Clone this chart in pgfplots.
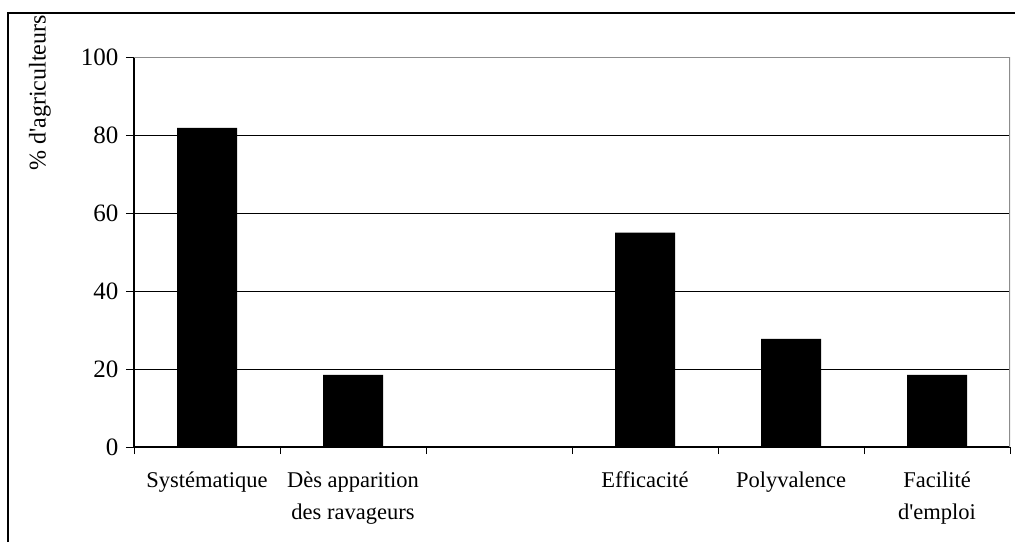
\documentclass[border=0pt]{standalone}
\usepackage{fontspec}
\setmainfont{Liberation Serif}
\usepackage{pgfplots}
\pgfplotsset{compat=1.18}
\begin{document}
\begin{tikzpicture}[x=1pt,y=1pt]
\useasboundingbox (0,0) rectangle (1015,542);
% outer chart frame (cut by the picture edge)
\draw[line width=1.2pt] (8,0) -- (8,529) -- (1016,529);
\node[rotate=90, anchor=east, inner sep=0pt, font=\fontsize{24}{28}\selectfont] at (40,527) {\% d\textquotesingle agriculteurs};
\begin{axis}[
    at={(134pt,95pt)}, anchor=south west,
    scale only axis, width=876pt, height=390pt,
    xmin=-0.5, xmax=5.5, ymin=0, ymax=100,
    axis x line*=bottom, axis y line*=left,
    axis line style={black, line width=1.2pt, -},
    ytick={0,20,...,100},
    xtick={0,1,3,4,5},
    xticklabels={Systématique, Dès apparition\\des ravageurs, Efficacité, Polyvalence, Facilité\\d\textquotesingle emploi},
    minor xtick={-0.5,0.5,...,5.5},
    major x tick style={draw=none},
    minor x tick style={black, line width=1pt},
    y tick style={black, line width=1pt},
    tick align=outside,
    major tick length=8pt, minor tick length=7pt,
    ymajorgrids, grid style={black, line width=0.8pt},
    /pgf/number format/assume math mode=true,
    yticklabel style={font=\fontsize{25}{28}\selectfont, xshift=-4pt},
    xticklabel style={font=\fontsize{22.5}{32}\selectfont, align=center, anchor=north, yshift=-13pt},
]
\addplot[ybar, fill=black, draw=none, bar width=60pt]
    coordinates {(0,81.8)(1,18.5)(3,55)(4,27.7)(5,18.5)};
\draw[gray!90, line width=1.5pt] (rel axis cs:0,1) -- (rel axis cs:1,1) -- (rel axis cs:1,0);
\end{axis}
\end{tikzpicture}
\end{document}
